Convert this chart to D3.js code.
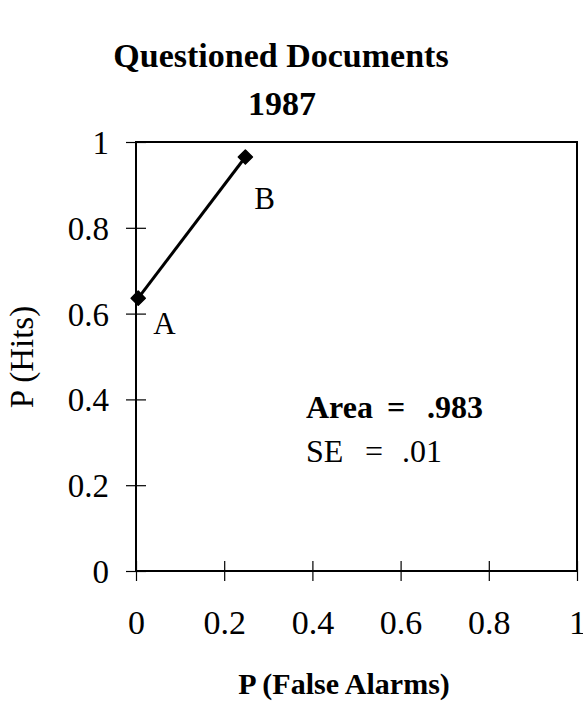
<!DOCTYPE html>
<html>
<head>
<meta charset="utf-8">
<script src="https://cdn.jsdelivr.net/npm/d3@7"></script>
<style>
  body { margin: 0; background: #fff; }
  svg text { font-family: "Liberation Serif", "Times New Roman", serif; fill: #000; }
</style>
</head>
<body>
<svg width="583" height="701"></svg>
<script>
var svg = d3.select("svg");

// data
var pointLabels = ["A", "B"];
var falseAlarms = [0.005, 0.248];
var hits = [0.636, 0.965];
var xTicks = [0, 0.2, 0.4, 0.6, 0.8, 1];
var yTicks = [0, 0.2, 0.4, 0.6, 0.8, 1];

var plotLeft = 136, plotRight = 577, plotTop = 142, plotBottom = 571;

var x = d3.scaleLinear().domain([0, 1]).range([plotLeft, plotRight]);
var y = d3.scaleLinear().domain([0, 1]).range([plotBottom, plotTop]);

// title
svg.append("text").attr("x", 281).attr("y", 67)
    .attr("text-anchor", "middle").attr("font-size", 34).attr("font-weight", "bold")
    .text("Questioned Documents");
svg.append("text").attr("x", 282).attr("y", 115)
    .attr("text-anchor", "middle").attr("font-size", 34).attr("font-weight", "bold")
    .text("1987");

// frame
svg.append("rect")
    .attr("x", plotLeft).attr("y", plotTop)
    .attr("width", plotRight - plotLeft).attr("height", plotBottom - plotTop)
    .attr("fill", "none").attr("stroke", "#000").attr("stroke-width", 2);

// axes with ticks crossing the line
var xAxis = svg.append("g").attr("transform", "translate(0," + plotBottom + ")")
    .call(d3.axisBottom(x).tickValues(xTicks).tickSizeInner(10).tickSizeOuter(0)
      .tickFormat(function(d) { return d3.format("")(d); }));
xAxis.select(".domain").remove();
xAxis.selectAll(".tick line").attr("y1", -10).attr("y2", 10).attr("stroke-width", 1.2);
xAxis.selectAll(".tick text").attr("y", 63).attr("dy", 0)
    .attr("font-size", 34).attr("font-family", "Liberation Serif, serif");

var yAxis = svg.append("g").attr("transform", "translate(" + plotLeft + ",0)")
    .call(d3.axisLeft(y).tickValues(yTicks).tickSizeInner(10).tickSizeOuter(0)
      .tickFormat(function(d) { return d3.format("")(d); }));
yAxis.select(".domain").remove();
yAxis.selectAll(".tick line").attr("x1", -10).attr("x2", 10).attr("stroke-width", 1.2);
yAxis.selectAll(".tick text").attr("x", -27).attr("dy", "0.35em")
    .attr("font-size", 33).attr("font-family", "Liberation Serif, serif");

// axis titles
svg.append("text").attr("x", 344).attr("y", 694)
    .attr("text-anchor", "middle").attr("font-size", 30).attr("font-weight", "bold")
    .text("P (False Alarms)");
svg.append("text")
    .attr("transform", "translate(33,357) rotate(-90)")
    .attr("text-anchor", "middle").attr("font-size", 33)
    .text("P (Hits)");

// curve
var pts = falseAlarms.map(function(d, i) { return { fa: d, h: hits[i], label: pointLabels[i] }; });

svg.append("path")
    .datum(pts)
    .attr("fill", "none").attr("stroke", "#000").attr("stroke-width", 3)
    .attr("d", d3.line().x(function(d) { return x(d.fa); }).y(function(d) { return y(d.h); }));

svg.selectAll(".pt").data(pts).enter().append("path")
    .attr("class", "pt")
    .attr("transform", function(d) { return "translate(" + x(d.fa) + "," + y(d.h) + ") rotate(45)"; })
    .attr("d", d3.symbol().type(d3.symbolSquare).size(100))
    .attr("fill", "#000").attr("stroke", "#000").attr("stroke-width", 1.5).attr("stroke-linejoin", "round");

var labelOffset = { A: [15, 36], B: [9, 52] };
svg.selectAll(".lbl").data(pts).enter().append("text")
    .attr("x", function(d) { return x(d.fa) + labelOffset[d.label][0]; })
    .attr("y", function(d) { return y(d.h) + labelOffset[d.label][1]; })
    .attr("font-size", 31)
    .text(function(d) { return d.label; });

// annotation, pieces placed as in the figure
var area = svg.append("text").attr("y", 418).attr("font-size", 32).attr("font-weight", "bold");
area.append("tspan").attr("x", 306).text("Area");
area.append("tspan").attr("x", 387).text("=");
area.append("tspan").attr("x", 427).text(".983");

var se = svg.append("text").attr("y", 462).attr("font-size", 32);
se.append("tspan").attr("x", 306).text("SE");
se.append("tspan").attr("x", 365).text("=");
se.append("tspan").attr("x", 402).text(".01");
</script>
</body>
</html>
